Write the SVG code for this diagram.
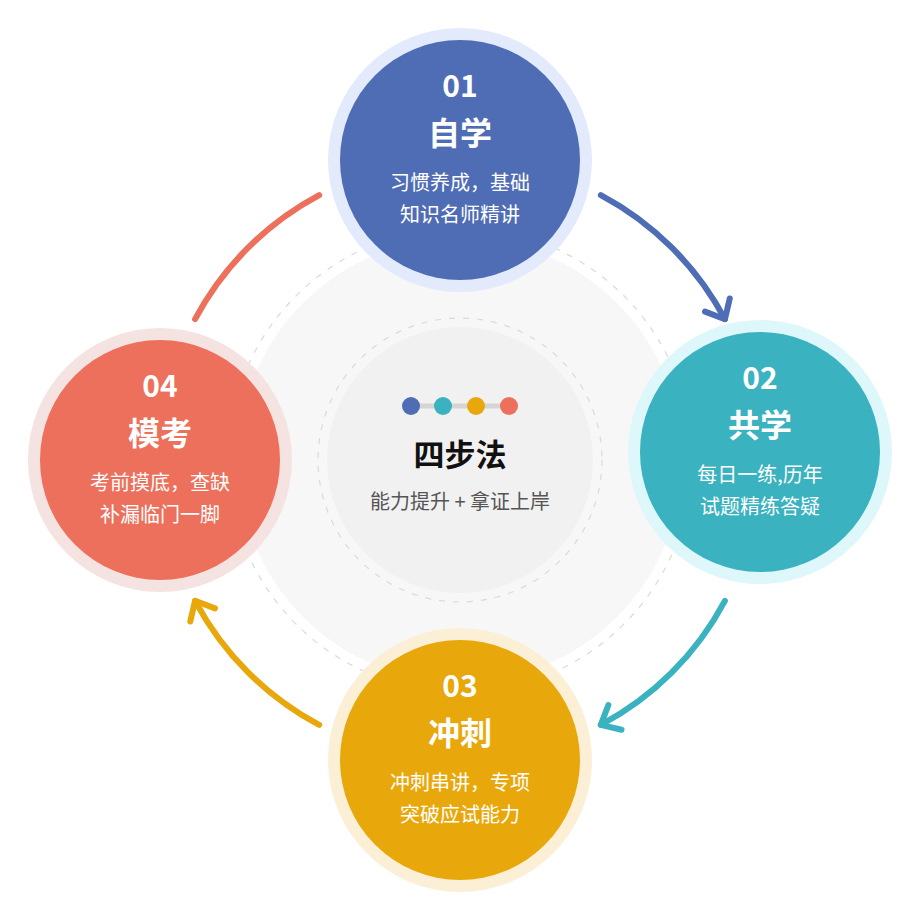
<svg xmlns="http://www.w3.org/2000/svg" width="921" height="921" viewBox="0 0 921 921">
<style>
text{font-family:"Noto Sans CJK SC","Noto Sans",sans-serif;text-anchor:middle}
.num{font-size:30px;font-weight:bold;fill:#fff}
.ttl{font-size:32px;font-weight:bold;fill:#fff}
.desc{font-size:20px;fill:#fff}
.arc{fill:none;stroke-width:6;stroke-linecap:round}
.dash{fill:none;stroke:#DADADA;stroke-width:1.2;stroke-dasharray:6 8}
</style>
<defs>
<marker id="mb" markerUnits="userSpaceOnUse" markerWidth="40" markerHeight="40" viewBox="-20 -20 40 40" orient="auto"><path d="M-16,-14 L0,0 L-16,14" fill="none" stroke="#4F6DB5" stroke-width="6" stroke-linecap="round" stroke-linejoin="round"/></marker>
<marker id="mt" markerUnits="userSpaceOnUse" markerWidth="40" markerHeight="40" viewBox="-20 -20 40 40" orient="auto"><path d="M-16,-14 L0,0 L-16,14" fill="none" stroke="#3AB2BF" stroke-width="6" stroke-linecap="round" stroke-linejoin="round"/></marker>
<marker id="my" markerUnits="userSpaceOnUse" markerWidth="40" markerHeight="40" viewBox="-20 -20 40 40" orient="auto"><path d="M-16,-14 L0,0 L-16,14" fill="none" stroke="#E8A80C" stroke-width="6" stroke-linecap="round" stroke-linejoin="round"/></marker>
</defs>
<rect width="921" height="921" fill="#fff"/>
<g id="background">
<circle cx="460" cy="460" r="222" fill="#F7F7F7"/>
<circle cx="460" cy="460" r="232" class="dash"/>
<circle cx="460" cy="460" r="142" class="dash"/>
<circle cx="460" cy="460" r="133" fill="#F1F1F1"/>
</g>
<g id="connectors">
<path class="arc" stroke="#4F6DB5" d="M600.8,195.1 A300,300 0 0 1 724.9,319.2" marker-end="url(#mb)"/>
<path class="arc" stroke="#3AB2BF" d="M724.9,600.8 A300,300 0 0 1 600.8,724.9" marker-end="url(#mt)"/>
<path class="arc" stroke="#E8A80C" d="M319.2,724.9 A300,300 0 0 1 195.1,600.8" marker-end="url(#my)"/>
<path class="arc" stroke="#EC705C" d="M195.1,319.2 A300,300 0 0 1 319.2,195.1"/>
</g>
<g id="center">
<line x1="411" y1="406" x2="509" y2="406" stroke="#D5D5D5" stroke-width="5"/>
<circle cx="411" cy="406" r="9" fill="#4F6DB5"/>
<circle cx="443" cy="406" r="9" fill="#3AB2BF"/>
<circle cx="476" cy="406" r="9" fill="#E8A80C"/>
<circle cx="509" cy="406" r="9" fill="#EC705C"/>
<text x="460" y="466" style="font-size:31px;font-weight:bold;fill:#111">四步法</text>
<text x="460" y="509" style="font-size:20px;fill:#555">能力提升 + 拿证上岸</text>
</g>
<g id="node1">
<circle cx="460" cy="160" r="132" fill="#E3EAFB"/>
<circle cx="460" cy="160" r="120" fill="#4F6DB5"/>
<text class="num" x="460" y="97">01</text>
<text class="ttl" x="460" y="145">自学</text>
<text class="desc" x="460" y="190">习惯养成，基础</text>
<text class="desc" x="460" y="222">知识名师精讲</text>
</g>
<g id="node2">
<circle cx="760" cy="452" r="132" fill="#DDF7FA"/>
<circle cx="760" cy="452" r="120" fill="#3AB2BF"/>
<text class="num" x="760" y="389">02</text>
<text class="ttl" x="760" y="437">共学</text>
<text class="desc" x="760" y="482">每日一练,历年</text>
<text class="desc" x="760" y="514">试题精练答疑</text>
</g>
<g id="node3">
<circle cx="460" cy="760" r="132" fill="#FBF0D6"/>
<circle cx="460" cy="760" r="120" fill="#E8A80C"/>
<text class="num" x="460" y="697">03</text>
<text class="ttl" x="460" y="745">冲刺</text>
<text class="desc" x="460" y="790">冲刺串讲，专项</text>
<text class="desc" x="460" y="822">突破应试能力</text>
</g>
<g id="node4">
<circle cx="160" cy="460" r="132" fill="#F5E3E1"/>
<circle cx="160" cy="460" r="120" fill="#EC705C"/>
<text class="num" x="160" y="397">04</text>
<text class="ttl" x="160" y="445">模考</text>
<text class="desc" x="160" y="490">考前摸底，查缺</text>
<text class="desc" x="160" y="522">补漏临门一脚</text>
</g>
</svg>
